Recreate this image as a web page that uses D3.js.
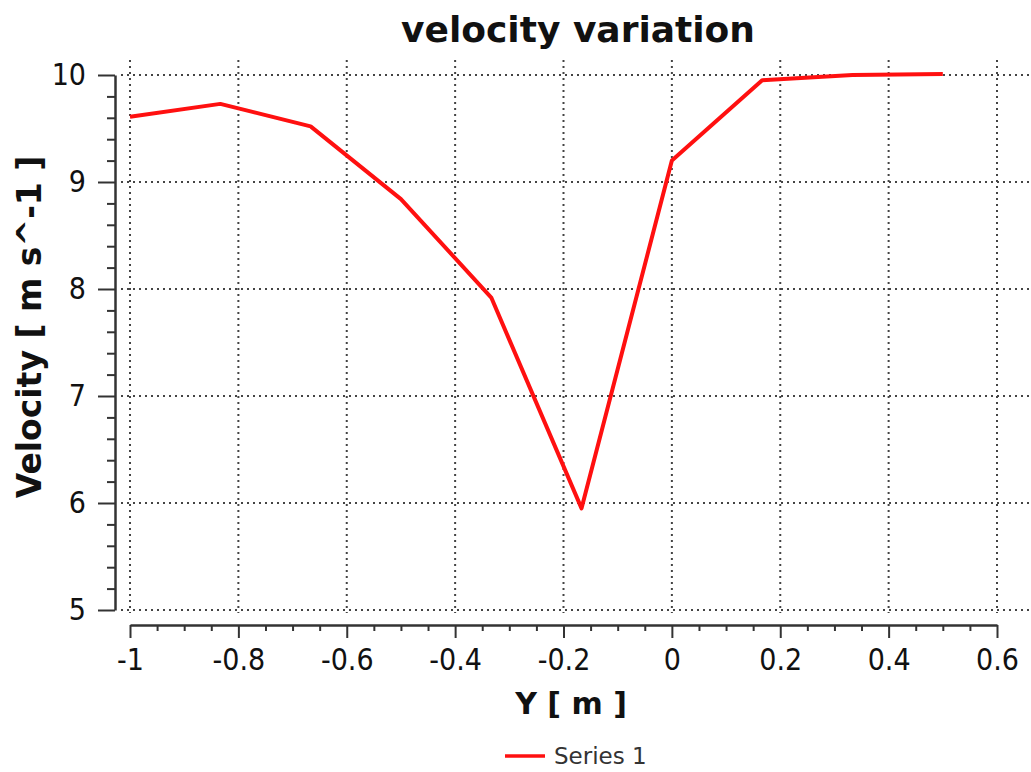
<!DOCTYPE html>
<html>
<head>
<meta charset="utf-8">
<script src="https://cdn.jsdelivr.net/npm/d3@7"></script>
<style>
  body { margin: 0; background: #fff; }
  svg { display: block; }
</style>
</head>
<body>
<script>
// datos
const posY = [-1, -0.8333, -0.6667, -0.5, -0.3333, -0.1667, 0, 0.1667, 0.3333, 0.5]
const velocidad = [9.61, 9.73, 9.52, 8.84, 7.92, 5.95, 9.20, 9.95, 10.0, 10.01]
const xTicks = [-1, -0.8, -0.6, -0.4, -0.2, 0, 0.2, 0.4, 0.6]
const yTicks = [5, 6, 7, 8, 9, 10]
const serie = "Series 1"

const width = 1031
const height = 772
const fuenteNum = "'DejaVu Sans Condensed', 'DejaVu Sans', sans-serif"
const fuente = "'DejaVu Sans', sans-serif"

const svg = d3.select("body").append("svg")
    .attr("width", width)
    .attr("height", height)
    .style("font-family", fuente)

const x = d3.scaleLinear().domain([-1, 0.6]).range([130, 997])
const y = d3.scaleLinear().domain([5, 10]).range([610, 75])

// cuadricula punteada
const grid = svg.append("g")
    .attr("stroke", "#444")
    .attr("stroke-width", 2)
    .attr("stroke-dasharray", "2,4")

grid.selectAll("line.v")
    .data(xTicks)
    .enter()
    .append("line")
    .attr("class", "v")
    .attr("x1", d => x(d))
    .attr("x2", d => x(d))
    .attr("y1", 60)
    .attr("y2", 613)

grid.selectAll("line.h")
    .data(yTicks)
    .enter()
    .append("line")
    .attr("class", "h")
    .attr("x1", 121)
    .attr("x2", width)
    .attr("y1", d => y(d))
    .attr("y2", d => y(d))

const fmt = d => String(+d.toFixed(1))

// eje Y
const minorY = d3.range(50, 101, 2).map(d => d / 10).filter(d => !yTicks.includes(d))
svg.append("g")
    .attr("transform", "translate(115,0)")
    .call(d3.axisLeft(y).tickValues(minorY).tickSize(8).tickSizeOuter(0).tickFormat(""))
    .call(g => g.select(".domain").remove())
    .call(g => g.selectAll("line").attr("stroke", "#333").attr("stroke-width", 2))

svg.append("g")
    .attr("transform", "translate(115,0)")
    .call(d3.axisLeft(y).tickValues(yTicks).tickSize(17).tickSizeOuter(0).tickPadding(12).tickFormat(fmt))
    .call(g => g.select(".domain").attr("stroke", "#333").attr("stroke-width", 2.5))
    .call(g => g.selectAll("line").attr("stroke", "#333").attr("stroke-width", 2))
    .call(g => g.selectAll("text")
        .attr("font-family", fuenteNum)
        .attr("font-size", 30)
        .attr("fill", "#111"))

// eje X
const minorX = d3.range(-100, 61, 5).map(d => d / 100).filter(d => !xTicks.some(t => Math.abs(t - d) < 1e-9))
svg.append("g")
    .attr("transform", "translate(0,625)")
    .call(d3.axisBottom(x).tickValues(minorX).tickSize(6).tickSizeOuter(0).tickFormat(""))
    .call(g => g.select(".domain").remove())
    .call(g => g.selectAll("line").attr("stroke", "#333").attr("stroke-width", 2))

svg.append("g")
    .attr("transform", "translate(0,625)")
    .call(d3.axisBottom(x).tickValues(xTicks).tickSize(13).tickSizeOuter(0).tickPadding(11).tickFormat(fmt))
    .call(g => g.select(".domain").attr("stroke", "#333").attr("stroke-width", 2.5))
    .call(g => g.selectAll("line").attr("stroke", "#333").attr("stroke-width", 2))
    .call(g => g.selectAll("text")
        .attr("font-family", fuenteNum)
        .attr("font-size", 30)
        .attr("fill", "#111"))

// serie
const linea = d3.line()
    .x((d, i) => x(posY[i]))
    .y(d => y(d))

svg.append("path")
    .datum(velocidad)
    .attr("d", linea)
    .attr("fill", "none")
    .attr("stroke", "#ff1010")
    .attr("stroke-width", 4)
    .attr("stroke-linejoin", "round")

// titulos
svg.append("text")
    .attr("x", 578)
    .attr("y", 42)
    .attr("text-anchor", "middle")
    .attr("font-size", 36)
    .attr("font-weight", "bold")
    .attr("fill", "#111")
    .text("velocity variation")

svg.append("text")
    .attr("x", 571)
    .attr("y", 714)
    .attr("text-anchor", "middle")
    .attr("font-size", 30)
    .attr("font-weight", "bold")
    .attr("fill", "#111")
    .text("Y [ m ]")

svg.append("text")
    .attr("transform", "translate(41,327) rotate(-90)")
    .attr("text-anchor", "middle")
    .attr("font-size", 33)
    .attr("font-weight", "bold")
    .attr("fill", "#111")
    .text("Velocity [ m s^-1 ]")

// leyenda
const leyenda = svg.append("g").attr("transform", "translate(505,756)")
leyenda.append("line")
    .attr("x1", 0)
    .attr("x2", 40)
    .attr("stroke", "#ff1010")
    .attr("stroke-width", 3.5)
leyenda.append("text")
    .attr("x", 49)
    .attr("dy", "0.35em")
    .attr("font-size", 23)
    .attr("fill", "#333")
    .text(serie)
</script>
</body>
</html>
